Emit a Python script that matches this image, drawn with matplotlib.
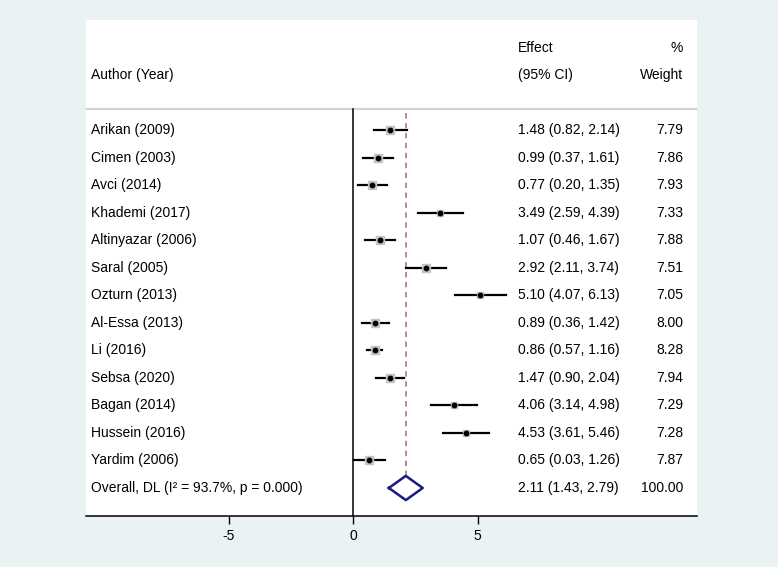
import matplotlib.pyplot as plt

plt.rcParams['font.family'] = ['Liberation Sans', 'DejaVu Sans']

studies = ["Arikan (2009)", "Cimen (2003)", "Avci (2014)", "Khademi (2017)",
           "Altinyazar (2006)", "Saral (2005)", "Ozturn (2013)", "Al-Essa (2013)",
           "Li (2016)", "Sebsa (2020)", "Bagan (2014)", "Hussein (2016)", "Yardim (2006)"]
effect = [1.48, 0.99, 0.77, 3.49, 1.07, 2.92, 5.10, 0.89, 0.86, 1.47, 4.06, 4.53, 0.65]
lower = [0.82, 0.37, 0.20, 2.59, 0.46, 2.11, 4.07, 0.36, 0.57, 0.90, 3.14, 3.61, 0.03]
upper = [2.14, 1.61, 1.35, 4.39, 1.67, 3.74, 6.13, 1.42, 1.16, 2.04, 4.98, 5.46, 1.26]
weight = [7.79, 7.86, 7.93, 7.33, 7.88, 7.51, 7.05, 8.00, 8.28, 7.94, 7.29, 7.28, 7.87]

overall_label = "Overall, DL (I\u00b2 = 93.7%, p = 0.000)"
overall_es, overall_lo, overall_hi = 2.11, 1.43, 2.79

bg = '#eaf2f3'
fig = plt.figure(figsize=(7.78, 5.67), dpi=100, facecolor=bg)
W, H = 778, 567
ax = fig.add_axes([86 / W, (H - 515.5) / H, (697 - 86) / W, (515.5 - 20) / H])
ax.set_xlim(-10.74, 13.81)
ax.set_ylim(-1, 17)

n = len(studies)
ys = [n - i for i in range(n)]  # Arikan at 13 ... Yardim at 1
fs = 10
x_lab = -10.54
x_eff = 6.63
x_wt = 13.25

# header
ax.text(x_lab, 15, "Author (Year)", fontsize=fs, va='center', ha='left')
ax.text(x_eff, 16, "Effect", fontsize=fs, va='center', ha='left')
ax.text(x_eff, 15, "(95% CI)", fontsize=fs, va='center', ha='left')
ax.text(x_wt, 16, "%", fontsize=fs, va='center', ha='right')
ax.text(x_wt, 15, "Weight", fontsize=fs, va='center', ha='right')
ax.axhline(13.78, color='#d3d3d3', lw=1.6)

# reference lines
ax.plot([0, 0], [-1, 13.78], color='black', lw=1.1)
ax.plot([overall_es, overall_es], [0.44, 13.78], color='#b88088', lw=1.3,
        linestyle=(0, (3, 2.5)))

for y, name, es, lo, hi, w in zip(ys, studies, effect, lower, upper, weight):
    ax.plot([lo, hi], [y, y], color='black', lw=1.6, zorder=3)
    ax.plot(es, y, marker='s', color='#c4c4c4', markersize=w * 0.68, zorder=4)
    ax.plot(es, y, marker='o', color='black', markersize=3.2, zorder=5)
    ax.text(x_lab, y, name, fontsize=fs, va='center', ha='left')
    ax.text(x_eff, y, f"{es:.2f} ({lo:.2f}, {hi:.2f})", fontsize=fs, va='center', ha='left')
    ax.text(x_wt, y, f"{w:.2f}", fontsize=fs, va='center', ha='right')

# overall diamond
dx = [overall_lo, overall_es, overall_hi, overall_es, overall_lo]
dy = [0, 0.44, 0, -0.44, 0]
ax.plot(dx, dy, color='#1a1a80', lw=1.8, zorder=4)
ax.text(x_lab, 0, overall_label, fontsize=fs, va='center', ha='left')
ax.text(x_eff, 0, f"{overall_es:.2f} ({overall_lo:.2f}, {overall_hi:.2f})", fontsize=fs,
        va='center', ha='left')
ax.text(x_wt, 0, "100.00", fontsize=fs, va='center', ha='right')

for s in ['left', 'right', 'top']:
    ax.spines[s].set_visible(False)
ax.spines['bottom'].set_linewidth(1.1)
ax.set_yticks([])
ax.set_xticks([-5, 0, 5])
ax.set_xticklabels(['-5', '0', '5'])
ax.tick_params(axis='x', length=6, width=1, pad=4, labelsize=fs)

fig.savefig('out.png', dpi=100, facecolor=bg)
